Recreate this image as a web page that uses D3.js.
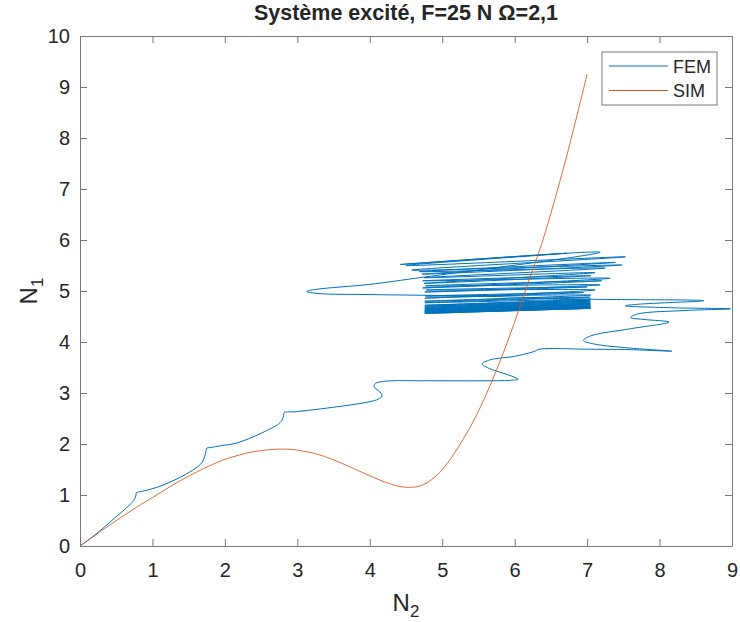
<!DOCTYPE html>
<html>
<head>
<meta charset="utf-8">
<script src="https://cdn.jsdelivr.net/npm/d3@7"></script>
<style>
  body { margin: 0; background: #fff; }
  text { font-family: "Liberation Sans", Arial, Helvetica, sans-serif; fill: #262626; }
</style>
</head>
<body>
<svg id="chart" width="740" height="622"></svg>
<script>
// axis ticks
const xTicks = [0, 1, 2, 3, 4, 5, 6, 7, 8, 9];
const yTicks = [0, 1, 2, 3, 4, 5, 6, 7, 8, 9, 10];

// SIM curve [N2, N1]
const simData = [
  [0, 0], [0.4, 0.4], [0.78, 0.76], [1, 0.95], [1.31, 1.22], [1.5, 1.37], [1.77, 1.56],
  [2, 1.7], [2.14, 1.76], [2.4, 1.85], [2.76, 1.9], [3.0, 1.88], [3.3, 1.79],
  [3.6, 1.63], [3.9, 1.44], [4.2, 1.26], [4.4, 1.17], [4.55, 1.15], [4.7, 1.18],
  [4.85, 1.3], [5.0, 1.5], [5.15, 1.78], [5.3, 2.12], [5.45, 2.5], [5.6, 2.95],
  [5.75, 3.45], [5.9, 4.0], [6.05, 4.6], [6.2, 5.22], [6.39, 6.0], [6.7, 7.55], [7.0, 9.25]
];

// FEM transient part [N2, N1]
const femTransient = [
  [0, 0], [0.2, 0.21], [0.48, 0.55], [0.65, 0.76], [0.74, 0.89], [0.77, 0.98], [0.78, 1.05],
  [0.82, 1.06], [1.08, 1.16], [1.4, 1.36], [1.6, 1.53], [1.68, 1.63], [1.72, 1.75],
  [1.74, 1.86], [1.75, 1.92], [1.8, 1.93], [1.96, 1.97], [2.14, 2.01], [2.39, 2.14],
  [2.6, 2.28], [2.72, 2.37], [2.79, 2.47], [2.81, 2.56], [2.82, 2.62], [2.88, 2.63],
  [2.95, 2.63], [3.55, 2.73], [3.8, 2.78], [4.0, 2.83], [4.12, 2.88], [4.17, 2.94],
  [4.14, 3.02], [4.06, 3.12], [4.07, 3.18], [4.15, 3.22], [4.33, 3.24], [4.7, 3.24],
  [5.66, 3.24], [5.95, 3.25], [6.05, 3.27], [5.98, 3.32], [5.62, 3.5], [5.55, 3.57],
  [5.66, 3.65], [6.0, 3.72], [6.26, 3.81], [6.35, 3.86], [6.63, 3.87], [6.91, 3.86],
  [7.6, 3.85], [8.17, 3.82], [7.6, 3.88], [7.1, 3.96], [6.95, 4.03], [7.05, 4.12],
  [7.6, 4.26], [8.13, 4.39], [7.8, 4.44], [7.6, 4.48], [7.7, 4.55], [8.4, 4.62],
  [8.98, 4.65], [8.2, 4.67], [7.53, 4.71], [7.7, 4.74], [8.61, 4.81], [7.0, 4.84],
  [5.5, 4.9], [4.0, 4.93], [3.3, 4.95], [3.13, 4.99], [3.25, 5.03], [4.0, 5.13],
  [4.63, 5.25]
];

// FEM oscillation block, alternating right / left turning points [N2, N1]
const femBlock = [
  [7.18, 5.76], [4.42, 5.52], [6.72, 5.74], [4.5, 5.5], [7.53, 5.67], [4.58, 5.41],
  [7.48, 5.51], [4.72, 5.33], [7.39, 5.56], [4.68, 5.38], [7.25, 5.45], [4.75, 5.26],
  [7.11, 5.36], [4.75, 5.15], [7.05, 5.3], [4.73, 5.2], [7.32, 5.25], [4.73, 5.06],
  [7.2, 5.2], [4.77, 5.1], [7.18, 5.12], [4.76, 4.98], [7.0, 5.08], [4.78, 5.02],
  [7.11, 5.02], [4.76, 4.86], [6.95, 4.97], [4.77, 4.9], [7.05, 4.92], [4.76, 4.8],
  [7.04, 4.88], [4.76, 4.77], [7.05, 4.84], [4.76, 4.72], [7.04, 4.82], [4.76, 4.7],
  [7.05, 4.8], [4.76, 4.68], [7.04, 4.78], [4.76, 4.66], [7.05, 4.76], [4.76, 4.65],
  [7.04, 4.74], [4.76, 4.63], [7.05, 4.73], [4.76, 4.62], [7.04, 4.71], [4.76, 4.61],
  [7.05, 4.7], [4.76, 4.6], [7.04, 4.69], [4.76, 4.59], [7.05, 4.68], [4.76, 4.58],
  [7.04, 4.67], [4.76, 4.57], [7.05, 4.66], [4.76, 4.56], [7.04, 4.66]
];

const femData = femTransient.concat(femBlock);

const seriesNames = ["FEM", "SIM"];
const seriesColors = ["#0072BD", "#D95319"];

const svg = d3.select("#chart");
const mLeft = 80, mRight = 732, mTop = 36, mBottom = 546;

const x = d3.scaleLinear().domain([0, 9]).range([mLeft, mRight]);
const y = d3.scaleLinear().domain([0, 10]).range([mBottom, mTop]);

const axisColor = "#7a7a7a";

function styleAxis(g) {
  g.select(".domain").attr("stroke", axisColor);
  g.selectAll(".tick line").attr("stroke", axisColor);
  g.selectAll(".tick text").style("font-size", "20px").attr("fill", "#262626");
}

svg.append("g")
  .attr("transform", `translate(0,${mBottom})`)
  .call(d3.axisBottom(x).tickValues(xTicks).tickSizeInner(-7).tickSizeOuter(0).tickPadding(17))
  .call(styleAxis);

svg.append("g")
  .attr("transform", `translate(0,${mTop})`)
  .call(d3.axisTop(x).tickValues(xTicks).tickSizeInner(-7).tickSizeOuter(0).tickFormat(""))
  .call(styleAxis);

svg.append("g")
  .attr("transform", `translate(${mLeft},0)`)
  .call(d3.axisLeft(y).tickValues(yTicks).tickSizeInner(-7).tickSizeOuter(0).tickPadding(10))
  .call(styleAxis);

svg.append("g")
  .attr("transform", `translate(${mRight},0)`)
  .call(d3.axisRight(y).tickValues(yTicks).tickSizeInner(-7).tickSizeOuter(0).tickFormat(""))
  .call(styleAxis);

const line = d3.line()
  .x(d => x(d[0]))
  .y(d => y(d[1]))
  .curve(d3.curveCatmullRom.alpha(0.5));

svg.append("path")
  .datum(femData)
  .attr("fill", "none")
  .attr("stroke", seriesColors[0])
  .attr("stroke-width", 1)
  .attr("stroke-linejoin", "round")
  .attr("d", line);

svg.append("path")
  .datum(simData)
  .attr("fill", "none")
  .attr("stroke", seriesColors[1])
  .attr("stroke-width", 1)
  .attr("stroke-opacity", 0.85)
  .attr("d", line);

// title
svg.append("text")
  .attr("x", (mLeft + mRight) / 2)
  .attr("y", 20)
  .attr("text-anchor", "middle")
  .style("font-size", "21.5px")
  .style("font-weight", "bold")
  .text("Système excité, F=25 N Ω=2,1");

// x label
const xl = svg.append("text")
  .attr("x", (mLeft + mRight) / 2)
  .attr("y", 611)
  .attr("text-anchor", "middle")
  .style("font-size", "24px");
xl.append("tspan").text("N");
xl.append("tspan").attr("dy", 6).style("font-size", "17px").text("2");

// y label
const yl = svg.append("text")
  .attr("transform", `translate(37,${(mTop + mBottom) / 2}) rotate(-90)`)
  .attr("text-anchor", "middle")
  .style("font-size", "24px");
yl.append("tspan").text("N");
yl.append("tspan").attr("dy", 6).style("font-size", "17px").text("1");

// legend
const lg = svg.append("g").attr("transform", "translate(602,52)");
lg.append("rect")
  .attr("width", 115).attr("height", 53)
  .attr("fill", "#fff").attr("stroke", axisColor);
seriesNames.forEach((name, i) => {
  const yy = 14 + i * 24.5;
  lg.append("line")
    .attr("x1", 7).attr("x2", 66).attr("y1", yy).attr("y2", yy)
    .attr("stroke", seriesColors[i]).attr("stroke-width", 1);
  lg.append("text")
    .attr("x", 71).attr("y", yy + 6.5)
    .style("font-size", "18px")
    .text(name);
});
</script>
</body>
</html>
